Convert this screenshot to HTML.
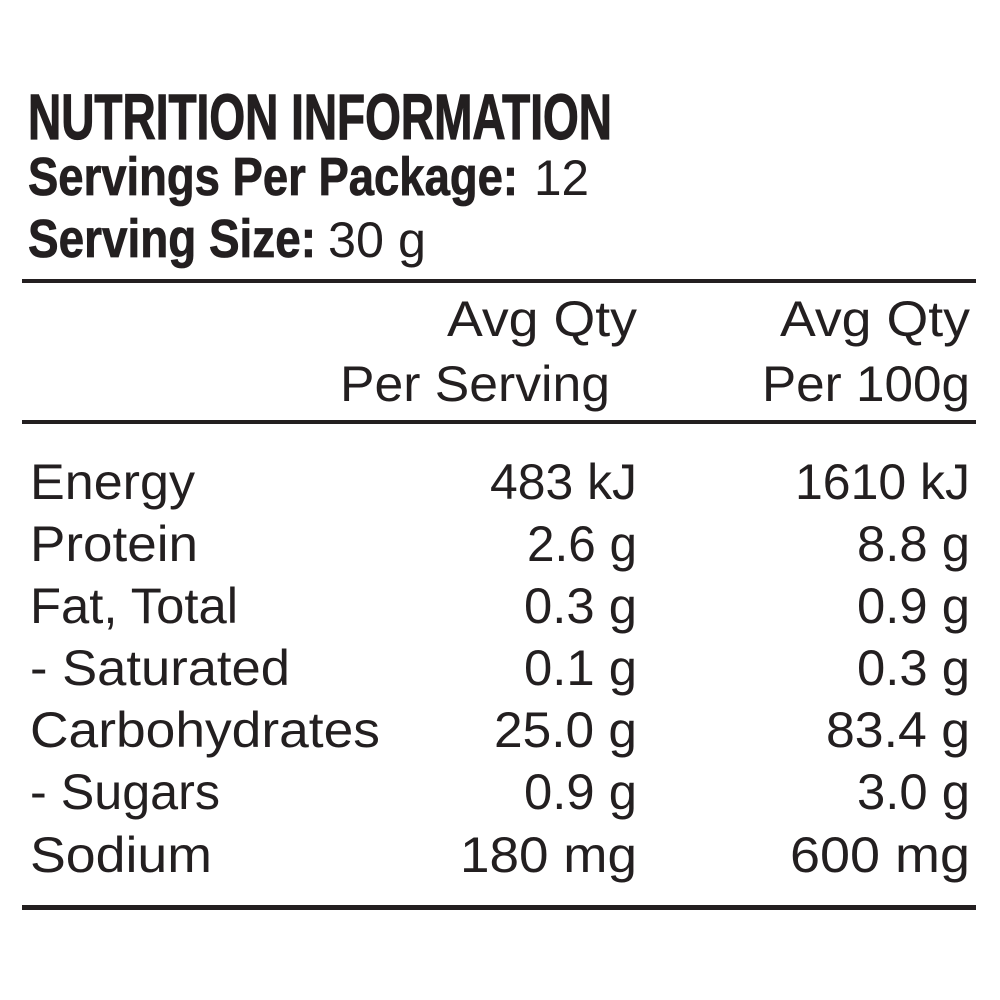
<!DOCTYPE html>
<html><head><meta charset="utf-8"><style>
html,body{margin:0;padding:0;background:#fff;}
svg{display:block;}
text{fill:#231f20;}
.b{font-family:"Liberation Sans Narrow","Liberation Sans",sans-serif;font-weight:bold;stroke:#231f20;stroke-width:0.8px;}
.r{font-family:"Liberation Sans",sans-serif;font-size:50px;}
</style></head><body>
<svg width="1000" height="1000" viewBox="0 0 1000 1000" xmlns="http://www.w3.org/2000/svg">
<rect width="1000" height="1000" fill="#fff"/>
<text class="b" x="28" y="139" font-size="64" textLength="584" lengthAdjust="spacingAndGlyphs" style="stroke-width:1.2px">NUTRITION INFORMATION</text>
<text class="b" x="28" y="195" font-size="54" textLength="490" lengthAdjust="spacingAndGlyphs">Servings Per Package:</text>
<text class="r" x="534" y="195" font-size="51" textLength="55" lengthAdjust="spacingAndGlyphs">12</text>
<text class="b" x="28" y="257" font-size="54" textLength="288" lengthAdjust="spacingAndGlyphs">Serving Size:</text>
<text class="r" x="328" y="257" font-size="51" textLength="98" lengthAdjust="spacingAndGlyphs">30 g</text>
<rect x="22" y="279" width="954" height="4" fill="#231f20"/>
<g class="r" text-anchor="end">
<text x="637" y="336" textLength="190" lengthAdjust="spacingAndGlyphs">Avg Qty</text>
<text x="610" y="401" textLength="270" lengthAdjust="spacingAndGlyphs">Per Serving</text>
<text x="970" y="336" textLength="190" lengthAdjust="spacingAndGlyphs">Avg Qty</text>
<text x="970" y="401" textLength="208" lengthAdjust="spacingAndGlyphs">Per 100g</text>
</g>
<rect x="22" y="420" width="954" height="4" fill="#231f20"/>
<g class="r">
<text x="30" y="499" textLength="165" lengthAdjust="spacingAndGlyphs">Energy</text>
<text x="30" y="561" textLength="168" lengthAdjust="spacingAndGlyphs">Protein</text>
<text x="30" y="623" textLength="208" lengthAdjust="spacingAndGlyphs">Fat, Total</text>
<text x="30" y="685" textLength="260" lengthAdjust="spacingAndGlyphs">- Saturated</text>
<text x="30" y="747" textLength="350" lengthAdjust="spacingAndGlyphs">Carbohydrates</text>
<text x="30" y="809" textLength="190" lengthAdjust="spacingAndGlyphs">- Sugars</text>
<text x="30" y="872" textLength="182" lengthAdjust="spacingAndGlyphs">Sodium</text>
</g>
<g class="r" text-anchor="end">
<text x="637" y="499" textLength="147" lengthAdjust="spacingAndGlyphs">483 kJ</text>
<text x="637" y="561" textLength="110" lengthAdjust="spacingAndGlyphs">2.6 g</text>
<text x="637" y="623" textLength="113" lengthAdjust="spacingAndGlyphs">0.3 g</text>
<text x="637" y="685" textLength="113" lengthAdjust="spacingAndGlyphs">0.1 g</text>
<text x="637" y="747" textLength="143" lengthAdjust="spacingAndGlyphs">25.0 g</text>
<text x="637" y="809" textLength="113" lengthAdjust="spacingAndGlyphs">0.9 g</text>
<text x="637" y="872" textLength="177" lengthAdjust="spacingAndGlyphs">180 mg</text>
<text x="970" y="499" textLength="175" lengthAdjust="spacingAndGlyphs">1610 kJ</text>
<text x="970" y="561" textLength="113" lengthAdjust="spacingAndGlyphs">8.8 g</text>
<text x="970" y="623" textLength="113" lengthAdjust="spacingAndGlyphs">0.9 g</text>
<text x="970" y="685" textLength="113" lengthAdjust="spacingAndGlyphs">0.3 g</text>
<text x="970" y="747" textLength="144" lengthAdjust="spacingAndGlyphs">83.4 g</text>
<text x="970" y="809" textLength="113" lengthAdjust="spacingAndGlyphs">3.0 g</text>
<text x="970" y="872" textLength="180" lengthAdjust="spacingAndGlyphs">600 mg</text>
</g>
<rect x="22" y="905" width="954" height="5" fill="#231f20"/>
</svg>
</body></html>
